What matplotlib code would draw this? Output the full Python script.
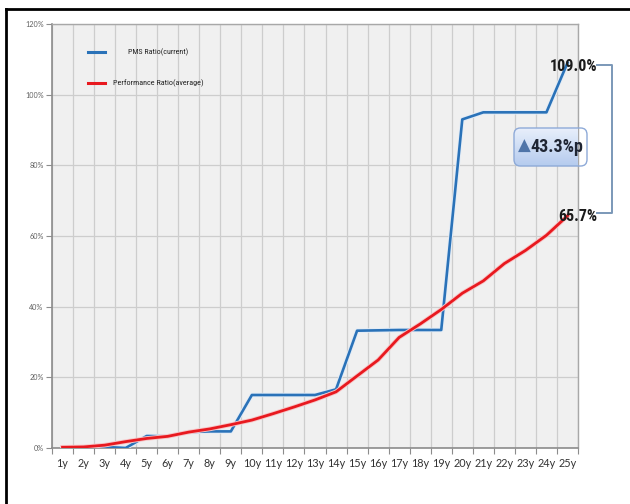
import numpy as np
import matplotlib
matplotlib.use("Agg")
import matplotlib.pyplot as plt
import matplotlib.patheffects as pe
from matplotlib import font_manager
from matplotlib.colors import LinearSegmentedColormap
from matplotlib.lines import Line2D
from matplotlib.patches import FancyBboxPatch
from matplotlib.ticker import FixedLocator, PercentFormatter

# ---- data -------------------------------------------------------------
years = ["1y", "2y", "3y", "4y", "5y", "6y", "7y", "8y", "9y", "10y",
         "11y", "12y", "13y", "14y", "15y", "16y", "17y", "18y", "19y", "20y",
         "21y", "22y", "23y", "24y", "25y"]

pms_ratio = [0.0, 0.0, 0.3, 0.0, 3.4, 3.3, 4.5, 4.7, 4.7, 15.0,
             15.0, 15.0, 15.0, 16.6, 33.2, 33.3, 33.4, 33.4, 33.4, 93.0,
             95.0, 95.0, 95.0, 95.0, 109.0]

perf_ratio = [0.2, 0.3, 0.8, 1.8, 2.7, 3.3, 4.5, 5.4, 6.6, 7.9,
              9.7, 11.6, 13.6, 15.9, 20.4, 24.9, 31.3, 35.1, 39.2, 43.8,
              47.3, 52.2, 55.9, 60.2, 65.7]

series_names = ["PMS Ratio(current)", "Performance Ratio(average)"]

# ---- fonts ------------------------------------------------------------
installed = {f.name for f in font_manager.fontManager.ttflist}
narrow_pick = next((n for n in ["Liberation Sans Narrow", "DejaVu Sans Condensed",
                                "Roboto Condensed", "Open Sans Condensed",
                                "Liberation Sans"] if n in installed), "DejaVu Sans")
NARROW = [narrow_pick, "DejaVu Sans"]
TICKFONT = [next((n for n in ["Lato", "Liberation Sans"] if n in installed),
                 "DejaVu Sans"), "DejaVu Sans"]

BLUE = "#2a72b8"
RED = "#e8191f"

fig = plt.figure(figsize=(6.3, 5.04), dpi=100)
ax = fig.add_axes([52 / 630, 1 - 448 / 504, 526 / 630, 424 / 504])
ax.set_facecolor("#f0f0f0")

x = np.arange(1, len(years) + 1)

ax.plot(x, pms_ratio, color=BLUE, lw=1.9, zorder=3,
        path_effects=[pe.Stroke(linewidth=3.2, foreground="#e2ecf7"), pe.Normal()])
ax.plot(x, perf_ratio, color=RED, lw=2.0, zorder=4,
        path_effects=[pe.Stroke(linewidth=3.3, foreground="#f7c6c8"), pe.Normal()])

# ---- axes -------------------------------------------------------------
ax.yaxis.set_major_locator(FixedLocator(range(0, 121, 20)))
ax.yaxis.set_major_formatter(PercentFormatter(decimals=0))
ax.tick_params(axis="y", labelsize=5.2, length=4, width=0.8, color="#8c8c8c",
               labelcolor="#606060", pad=2, labelfontfamily=TICKFONT)

# category boundaries carry the gridlines/tick marks, centres carry the labels
ax.set_xticks(np.arange(0.5, len(years) + 1, 1))
ax.set_xticklabels([])
ax.set_xticks(x, minor=True)
ax.set_xticklabels(years, minor=True)
ax.tick_params(axis="x", which="major", length=4, width=0.8, color="#8c8c8c")
ax.tick_params(axis="x", which="minor", length=0, labelsize=7.8, pad=7,
               labelcolor="#333333", labelfontfamily=TICKFONT)

ax.grid(True, which="major", color="#cdcdcd", lw=0.9)
ax.set_axisbelow(True)
for side in ("left", "bottom"):
    ax.spines[side].set_color("#8c8c8c")
    ax.spines[side].set_linewidth(1.2)
for side in ("top", "right"):
    ax.spines[side].set_color("#a8a8a8")
    ax.spines[side].set_linewidth(1.0)

# ---- legend -----------------------------------------------------------
legend_texts = []
for y_ax, color, label in zip([0.934, 0.861], [BLUE, RED], series_names):
    ax.add_line(Line2D([0.068, 0.101], [y_ax, y_ax], transform=ax.transAxes,
                       color=color, lw=2.2))
    legend_texts.append(ax.text(0.2015, y_ax, label, transform=ax.transAxes,
                                ha="center", va="center", fontsize=6,
                                family=NARROW, color="#222222"))

# ---- end-point labels and gap bracket ---------------------------------
top_lbl = ax.annotate(f"{pms_ratio[-1]:.1f}%", xy=(x[-1], pms_ratio[-1]),
                      xytext=(21.5, -2.4), textcoords="offset points",
                      ha="right", va="center", fontsize=12, fontweight="bold",
                      family=NARROW, color="#1a1a1a", zorder=6, annotation_clip=False)
bot_lbl = ax.annotate(f"{perf_ratio[-1]:.1f}%", xy=(x[-1], perf_ratio[-1]),
                      xytext=(21.5, -0.7), textcoords="offset points",
                      ha="right", va="center", fontsize=12, fontweight="bold",
                      family=NARROW, color="#1a1a1a", zorder=6, annotation_clip=False)

bt = ax.get_yaxis_transform()
ax.add_line(Line2D([1.036, 1.065, 1.065, 1.036],
                   [pms_ratio[-1] - 0.6, pms_ratio[-1] - 0.6,
                    perf_ratio[-1] + 0.9, perf_ratio[-1] + 0.9],
                   transform=bt, color="#7b98b8", lw=1.4, clip_on=False))

gap = pms_ratio[-1] - perf_ratio[-1]
bx, by, bw, bh = (514 - 52) / 526, (448 - 166) / 424, 73 / 526, 38 / 424
box = FancyBboxPatch((bx, by), bw, bh, boxstyle="round,pad=0,rounding_size=0.012",
                     mutation_aspect=1.3, transform=ax.transAxes,
                     facecolor="none", edgecolor="#8eaad8", lw=1.0, zorder=7,
                     clip_on=False)
ax.add_patch(box)
grad = np.linspace(0, 1, 64).reshape(-1, 1)
img = ax.imshow(grad, extent=[bx, bx + bw, by, by + bh], transform=ax.transAxes,
                cmap=LinearSegmentedColormap.from_list("boxfill", ["#e8effb", "#b5cbee"]),
                aspect="auto", origin="upper", zorder=6)
img.set_clip_path(box)
ax.text((524 - 52) / 526, 0.712, "\u25b2", transform=ax.transAxes, ha="center",
        va="center", fontsize=12, family=["DejaVu Sans"], color="#4f74a8", zorder=8)
gap_lbl = ax.text((530 - 52) / 526, 0.71, f"{gap:.1f}%p", transform=ax.transAxes,
                  ha="left", va="center", fontsize=12.5, fontweight="bold",
                  family=NARROW, color="#1f2533", zorder=8)

ax.set_xlim(0.5, len(years) + 0.5)
ax.set_ylim(0, 120)

# size the narrow-font texts to their intended pixel widths
fig.canvas.draw()
renderer = fig.canvas.get_renderer()
for artist, width_px, max_size in [(legend_texts[0], 60, 7.0), (legend_texts[1], 91, 7.0),
                                   (top_lbl, 47, 12.5), (bot_lbl, 39, 12.5),
                                   (gap_lbl, 53, 13.0)]:
    w = artist.get_window_extent(renderer).width
    if w > 0:
        artist.set_fontsize(min(max_size, artist.get_fontsize() * width_px / w))

# ---- outer frame ------------------------------------------------------
fig.add_artist(Line2D([6 / 630, 6 / 630], [0, 1 - 9 / 504], transform=fig.transFigure,
                      color="black", lw=2))
fig.add_artist(Line2D([6 / 630, 1], [1 - 9 / 504, 1 - 9 / 504], transform=fig.transFigure,
                      color="black", lw=2))

fig.savefig("out.png", dpi=100)
